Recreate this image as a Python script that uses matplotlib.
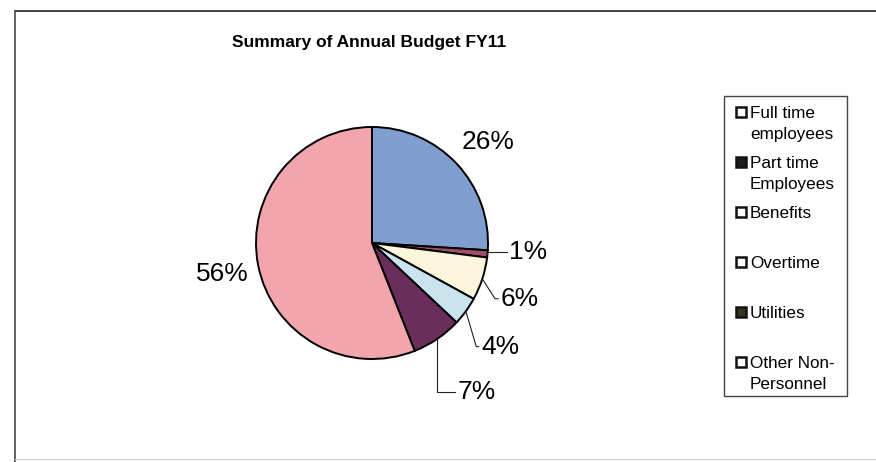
import numpy as np
import matplotlib
matplotlib.use("Agg")
import matplotlib.pyplot as plt
from matplotlib import font_manager
from matplotlib.patches import Rectangle
from matplotlib.lines import Line2D

# data
categories = ["Full time\nemployees", "Part time\nEmployees", "Benefits",
              "Overtime", "Utilities", "Other Non-\nPersonnel"]
values = [26, 1, 6, 4, 7, 56]
pct_labels = ["26%", "1%", "6%", "4%", "7%", "56%"]
slice_colors = ["#819ed0", "#a24e68", "#fbf6dc", "#c9e3ef", "#6b2d5c", "#f2a5ad"]
legend_marks = ["white", "#1c1c1c", "white", "white", "#3b3322", "white"]

# label layout (radius, angle nudge in degrees, leader elbow offset)
lab_r = [1.33, 1.35, 1.36, 1.42, 1.57, 1.32]
lab_nudge = [-2.2, 2.1, -2.7, -3.0, 0.8, 0.9]
elbow_dx = [None, 0.0, 0.11, 0.09, 0.0, None]

names = {f.name for f in font_manager.fontManager.ttflist}
base = "Liberation Sans" if "Liberation Sans" in names else "DejaVu Sans"
if "Liberation Sans Narrow" in names:
    title_font, title_size = "Liberation Sans Narrow", 14.5
else:
    title_font, title_size = base, 12.5
plt.rcParams["font.family"] = base

W, H = 876, 462
fig = plt.figure(figsize=(W / 100, H / 100), dpi=100)
fig.patch.set_facecolor("white")


def fx(x):
    return x / W


def fy(y):
    return 1 - y / H


# outer frame (chart area border)
fig.add_artist(Line2D([fx(15), 1.0], [fy(11), fy(11)], color="#333333", lw=1.3))
fig.add_artist(Line2D([fx(15), fx(15)], [fy(11), 0.0], color="#555555", lw=1.3))
fig.add_artist(Line2D([fx(15), 1.0], [fy(459), fy(459)], color="#cccccc", lw=0.8))

fig.text(fx(369), fy(42), "Summary of Annual Budget FY11", ha="center", va="center",
         fontsize=title_size, fontweight="bold", family=[title_font, base])

# pie
cx, cy, R = 372, 243, 116
ax = fig.add_axes([fx(cx - R), fy(cy + R), 2 * R / W, 2 * R / H])
wedges, _ = ax.pie(values, colors=slice_colors, startangle=90, counterclock=False,
                   radius=1, wedgeprops=dict(edgecolor="black", linewidth=1.4))
ax.set_xlim(-1, 1)
ax.set_ylim(-1, 1)
ax.axis("off")

texts = []
for w, lab, r, nd in zip(wedges, pct_labels, lab_r, lab_nudge):
    mid = np.deg2rad((w.theta1 + w.theta2) / 2 + nd)
    t = ax.text(r * np.cos(mid), r * np.sin(mid), lab, ha="center", va="center",
                fontsize=19)
    texts.append(t)

fig.canvas.draw()
inv = ax.transData.inverted()
for w, t, edx in zip(wedges, texts, elbow_dx):
    if edx is None:
        continue
    mid = np.deg2rad((w.theta1 + w.theta2) / 2)
    sx, sy = np.cos(mid), np.sin(mid)
    bb = t.get_window_extent()
    (x0, y0), (x1, y1) = inv.transform([[bb.x0, bb.y0], [bb.x1, bb.y1]])
    ty = (y0 + y1) / 2
    ex = x0 - 0.02
    ax.plot([sx, sx + edx, ex], [sy, ty, ty], color="#222222", lw=0.8, clip_on=False)

# legend box
fig.add_artist(Rectangle((fx(724), fy(396)), fx(847) - fx(724), fy(96) - fy(396),
                         facecolor="white", edgecolor="#444444", lw=1.0))
y = 112
for lab, mc in zip(categories, legend_marks):
    fig.add_artist(Rectangle((fx(736), fy(y + 5)), fx(10), fy(0) - fy(10),
                             facecolor=mc, edgecolor="#111111", lw=1.8))
    for i, line in enumerate(lab.split("\n")):
        fig.text(fx(750), fy(y + 6 + i * 21), line, ha="left", va="baseline",
                 fontsize=12.3)
    y += 50

fig.savefig("out.png", dpi=100)
